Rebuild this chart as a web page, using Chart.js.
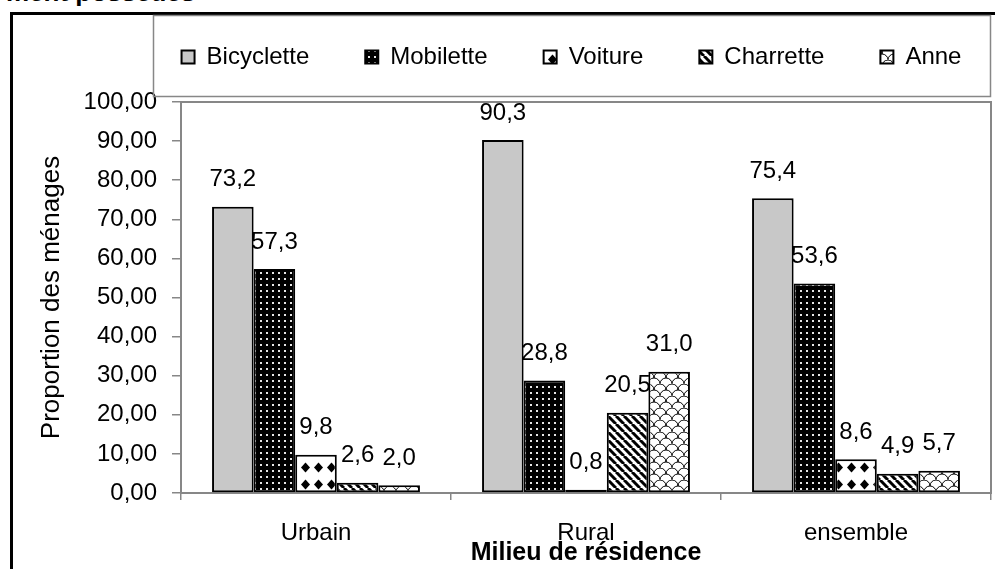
<!DOCTYPE html>
<html lang="fr">
<head>
<meta charset="utf-8">
<title>Milieu de résidence</title>
<script src="https://cdn.jsdelivr.net/npm/chart.js@4.4.1/dist/chart.umd.min.js"></script>
<style>
  html, body { margin: 0; padding: 0; background: #fff; overflow: hidden; }
  #page { position: relative; width: 995px; height: 569px; overflow: hidden; }
  #cadre {
    position: absolute; left: 10px; top: 12px; width: 2000px; height: 2000px;
    border-left: 3px solid #000; border-top: 3px solid #000;
  }
  #titre {
    position: absolute; left: 6px; top: -23px; line-height: 24px;
    font: bold 26px "Liberation Sans", Arial, sans-serif; color: #000; white-space: nowrap;
  }
  #graph { position: absolute; left: 0; top: 0; }
</style>
</head>
<body>
<div id="page">
  <div id="cadre"></div>
  <div id="titre">ment possédés</div>
  <canvas id="graph" width="995" height="569"></canvas>
</div>
<script>
// données
const categories = ["Urbain", "Rural", "ensemble"];
const bicyclette = [73.2, 90.3, 75.4];
const mobilette = [57.3, 28.8, 53.6];
const voiture = [9.8, 0.8, 8.6];
const charrette = [2.6, 20.5, 4.9];
const anne = [2.0, 31.0, 5.7];

const FONT = '"Liberation Sans", Arial, sans-serif';
const GRIS = "#878787";

const virgule = (v, d) => v.toFixed(d).replace(".", ",");

// motifs de remplissage des barres
const motif = function (w, h, dessin) {
  const c = document.createElement("canvas");
  c.width = w;
  c.height = h;
  const g = c.getContext("2d");
  dessin(g, w, h);
  return g.createPattern(c, "repeat");
};

const ctxMain = document.getElementById("graph").getContext("2d");

const pointille = motif(6, 6, (g, w, h) => {
  g.fillStyle = "#000";
  g.fillRect(0, 0, w, h);
  g.fillStyle = "#e6e6e6";
  g.fillRect(2, 2, 2, 2);
});

const losanges = motif(13, 17, (g, w, h) => {
  g.fillStyle = "#fff";
  g.fillRect(0, 0, w, h);
  g.fillStyle = "#000";
  g.beginPath();
  g.moveTo(6.5, 3.5);
  g.lineTo(11, 8.5);
  g.lineTo(6.5, 13.5);
  g.lineTo(2, 8.5);
  g.closePath();
  g.fill();
});

const hachures = motif(8, 8, (g, w, h) => {
  g.fillStyle = "#fff";
  g.fillRect(0, 0, w, h);
  g.strokeStyle = "#000";
  g.lineWidth = 3;
  for (const k of [-8, 0, 8]) {
    g.beginPath();
    g.moveTo(k, 0);
    g.lineTo(k + 8, 8);
    g.stroke();
  }
});

const ecailles = motif(12, 12, (g, w, h) => {
  g.fillStyle = "#fff";
  g.fillRect(0, 0, w, h);
  g.strokeStyle = "#000";
  g.lineWidth = 1;
  g.beginPath();
  g.arc(6, 12, 6, Math.PI, 2 * Math.PI);
  g.stroke();
  g.beginPath();
  g.arc(0, 6, 6, Math.PI, 2 * Math.PI);
  g.stroke();
  g.beginPath();
  g.arc(12, 6, 6, Math.PI, 2 * Math.PI);
  g.stroke();
});

const serie = (label, data, fond) => ({
  label: label,
  data: data,
  backgroundColor: fond,
  borderColor: "#000",
  borderWidth: 2,
  borderSkipped: false,
  categoryPercentage: 0.77,
  barPercentage: 1.0,
});

// cadre du graphique, cadre de la légende et position de la légende
const cadres = {
  id: "cadres",
  afterLayout(chart) {
    const lg = chart.legend;
    const h = lg.height;
    // bornes élargies (centre conservé à 571,5) pour garder les 5 entrées sur une ligne
    lg.left = 103;
    lg.right = 1040;
    lg.width = lg.right - lg.left;
    lg.top = -11;
    lg.bottom = lg.top + h;
  },
  beforeDatasetsDraw(chart) {
    const { ctx, chartArea: a } = chart;
    ctx.save();
    ctx.strokeStyle = GRIS;
    ctx.lineWidth = 1.5;
    ctx.strokeRect(153.5, 15.5, 990 - 153, 96 - 15);
    ctx.lineWidth = 2;
    ctx.strokeRect(a.left, a.top, a.right - a.left, a.bottom - a.top);
    ctx.restore();
  },
};

// étiquettes de valeur au-dessus des barres
const etiquettes = {
  id: "etiquettes",
  afterDatasetsDraw(chart) {
    const ctx = chart.ctx;
    ctx.save();
    ctx.font = "24px " + FONT;
    ctx.fillStyle = "#000";
    ctx.textAlign = "center";
    ctx.textBaseline = "middle";
    chart.data.datasets.forEach((ds, i) => {
      chart.getDatasetMeta(i).data.forEach((bar, j) => {
        ctx.fillText(virgule(ds.data[j], 1), bar.x, bar.y - 27);
      });
    });
    ctx.restore();
  },
};

new Chart(ctxMain, {
  type: "bar",
  data: {
    labels: categories,
    datasets: [
      serie("Bicyclette", bicyclette, "#c8c8c8"),
      serie("Mobilette", mobilette, pointille),
      serie("Voiture", voiture, losanges),
      serie("Charrette", charrette, hachures),
      serie("Anne", anne, ecailles),
    ],
  },
  options: {
    responsive: false,
    devicePixelRatio: 1,
    animation: false,
    layout: { padding: { top: 12, left: 0, right: 4, bottom: 0 } },
    plugins: {
      legend: {
        position: "top",
        labels: {
          boxWidth: 13,
          boxHeight: 13,
          padding: 56,
          color: "#000",
          font: { family: FONT, size: 24 },
        },
      },
      tooltip: { enabled: false },
    },
    scales: {
      x: {
        grid: { offset: true, drawOnChartArea: false, tickLength: 7, color: GRIS, lineWidth: 1.5 },
        border: { display: false },
        ticks: { padding: 19, color: "#000", font: { family: FONT, size: 24 } },
        title: {
          display: true,
          text: "Milieu de résidence",
          color: "#000",
          font: { family: FONT, size: 25, weight: "bold" },
          padding: { top: 0, bottom: 1 },
        },
        afterFit: (s) => { s.height = 76; },
      },
      y: {
        min: 0,
        max: 100,
        grid: { drawOnChartArea: false, tickLength: 9, color: GRIS, lineWidth: 1.5 },
        border: { display: false },
        ticks: {
          stepSize: 10,
          padding: 15,
          color: "#000",
          font: { family: FONT, size: 24 },
          callback: (v) => virgule(v, 2),
        },
        title: {
          display: true,
          text: "Proportion des ménages",
          color: "#000",
          font: { family: FONT, size: 26 },
          padding: { top: 36, bottom: 0 },
        },
        afterFit: (s) => { s.width = 181; },
      },
    },
  },
  plugins: [cadres, etiquettes],
});
</script>
</body>
</html>
